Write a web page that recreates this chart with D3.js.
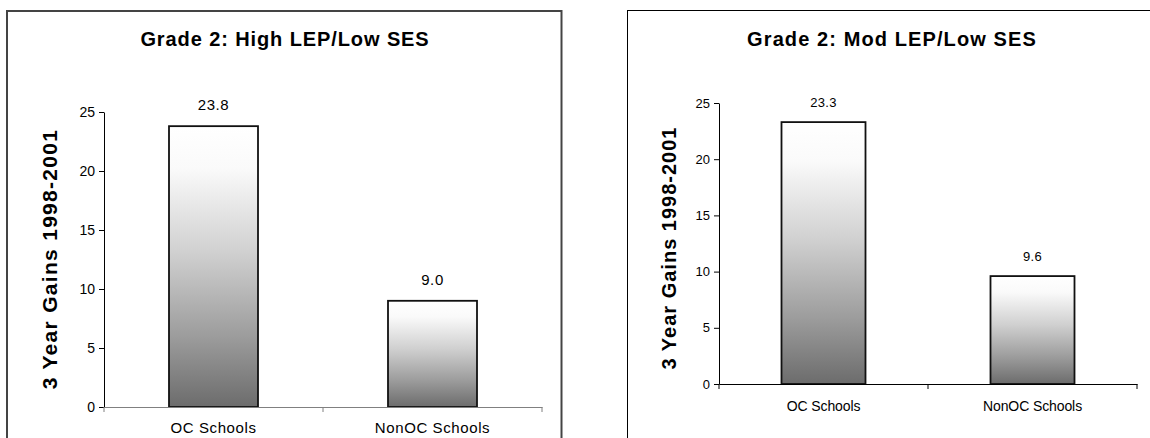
<!DOCTYPE html>
<html>
<head>
<meta charset="utf-8">
<script src="https://cdn.jsdelivr.net/npm/d3@7"></script>
<style>
  html, body { margin: 0; padding: 0; background: #fff; }
  svg { display: block; font-family: "Liberation Sans", Arial, sans-serif; }
</style>
</head>
<body>
<svg id="chart" width="1150" height="438"></svg>
<script>
// Categories and 3-year gains per school group
const categories = ["OC Schools", "NonOC Schools"];
const highLepGains = [23.8, 9.0];
const modLepGains = [23.3, 9.6];
const yTicks = [0, 5, 10, 15, 20, 25];
const chartTitles = ["Grade 2: High LEP/Low SES", "Grade 2: Mod LEP/Low SES"];
const yAxisTitle = "3 Year Gains 1998-2001";

const svg = d3.select("#chart");

// Shared vertical gradient for the bars: white at the top fading to dark grey
const defs = svg.append("defs");
const grad = defs.append("linearGradient")
  .attr("id", "barFill").attr("x1", 0).attr("y1", 0).attr("x2", 0).attr("y2", 1);
[[0, "#ffffff"], [0.15, "#fafafa"], [0.45, "#d0d0d0"], [0.75, "#9c9c9c"], [1, "#6c6c6c"]]
  .forEach(([o, c]) => grad.append("stop").attr("offset", o).attr("stop-color", c));

function drawPanel(cfg) {
  const g = svg.append("g");

  // panel frame
  g.append("rect")
    .attr("x", cfg.frame.x).attr("y", cfg.frame.y)
    .attr("width", cfg.frame.w).attr("height", cfg.frame.h)
    .attr("fill", "none").attr("stroke", cfg.frameColor).attr("stroke-width", cfg.frameWidth);

  const x = d3.scaleBand().domain(categories)
    .range([cfg.plot.left, cfg.plot.right])
    .paddingInner(cfg.pad).paddingOuter(cfg.pad / 2);
  const y = d3.scaleLinear().domain([0, 25]).range([cfg.plot.bottom, cfg.plot.top]);

  // title
  g.append("text")
    .attr("x", cfg.titleX).attr("y", cfg.titleY)
    .attr("text-anchor", "middle")
    .attr("font-size", cfg.titleSize).attr("font-weight", "bold")
    .attr("letter-spacing", cfg.titleSpacing)
    .text(cfg.title);

  // y axis title
  g.append("text")
    .attr("transform", `translate(${cfg.yTitleX},${cfg.yTitleY}) rotate(-90)`)
    .attr("text-anchor", "middle")
    .attr("font-size", cfg.yTitleSize).attr("font-weight", "bold")
    .attr("letter-spacing", cfg.yTitleSpacing)
    .text(yAxisTitle);

  // bars
  g.selectAll("rect.bar").data(cfg.values).join("rect")
    .attr("class", "bar")
    .attr("x", (d, i) => x(categories[i]))
    .attr("y", d => y(d))
    .attr("width", x.bandwidth())
    .attr("height", d => y(0) - y(d))
    .attr("fill", "url(#barFill)")
    .attr("stroke", "#111").attr("stroke-width", 1.8);

  // value labels
  g.selectAll("text.val").data(cfg.values).join("text")
    .attr("class", "val")
    .attr("x", (d, i) => x(categories[i]) + x.bandwidth() / 2)
    .attr("y", d => y(d) - cfg.valueGap)
    .attr("text-anchor", "middle")
    .attr("font-size", cfg.valueSize)
    .attr("letter-spacing", cfg.valueSpacing)
    .text(d => d.toFixed(1));

  // y axis
  const yAxis = g.append("g")
    .attr("transform", `translate(${cfg.plot.left},0)`)
    .call(d3.axisLeft(y).tickValues(yTicks).tickSize(5).tickSizeOuter(0).tickPadding(4));
  yAxis.select(".domain").attr("stroke", "#000");
  yAxis.selectAll(".tick line").attr("stroke", "#000");
  yAxis.selectAll(".tick text")
    .attr("font-size", cfg.tickSize).attr("font-family", null).attr("fill", "#000");

  // x axis: baseline, category labels, and boundary ticks between categories
  const xAxis = g.append("g")
    .attr("transform", `translate(0,${cfg.plot.bottom})`)
    .call(d3.axisBottom(x).tickSize(0).tickSizeOuter(0).tickPadding(cfg.xLabelPad));
  xAxis.select(".domain").attr("stroke", cfg.xAxisColor);
  xAxis.selectAll(".tick text")
    .attr("font-size", cfg.xLabelSize).attr("font-family", null).attr("fill", "#000")
    .attr("letter-spacing", cfg.xLabelSpacing);
  const gap = (x.step() - x.bandwidth()) / 2;
  const bounds = categories.map(c => x(c) - gap).concat([x(categories[categories.length - 1]) + x.bandwidth() + gap]);
  xAxis.selectAll("line.bound").data(bounds).join("line")
    .attr("class", "bound")
    .attr("x1", d => d).attr("x2", d => d)
    .attr("y1", 0).attr("y2", 5)
    .attr("stroke", cfg.xAxisColor);
}

drawPanel({
  frame: { x: 7, y: 11, w: 554.5, h: 440 }, frameColor: "#444", frameWidth: 2,
  plot: { left: 104, right: 542, top: 112, bottom: 407 },
  pad: 1 - 89 / 219,
  title: chartTitles[0], titleX: 285, titleY: 46, titleSize: 20, titleSpacing: 0.9,
  yTitleX: 57, yTitleY: 259, yTitleSize: 21, yTitleSpacing: 1.3,
  values: highLepGains, valueGap: 16, valueSize: 15, valueSpacing: 0.6,
  tickSize: 14, xLabelSize: 15, xLabelSpacing: 0.6, xLabelPad: 15, xAxisColor: "#808080"
});

drawPanel({
  frame: { x: 627.5, y: 10.5, w: 560, h: 440 }, frameColor: "#000", frameWidth: 1,
  plot: { left: 719, right: 1137, top: 103, bottom: 384 },
  pad: 1 - 84 / 209,
  title: chartTitles[1], titleX: 892, titleY: 46, titleSize: 20, titleSpacing: 1.1,
  yTitleX: 676, yTitleY: 248, yTitleSize: 20, yTitleSpacing: 1,
  values: modLepGains, valueGap: 15, valueSize: 13, valueSpacing: 0.3,
  tickSize: 13, xLabelSize: 14, xLabelSpacing: -0.1, xLabelPad: 17, xAxisColor: "#000"
});
</script>
</body>
</html>
